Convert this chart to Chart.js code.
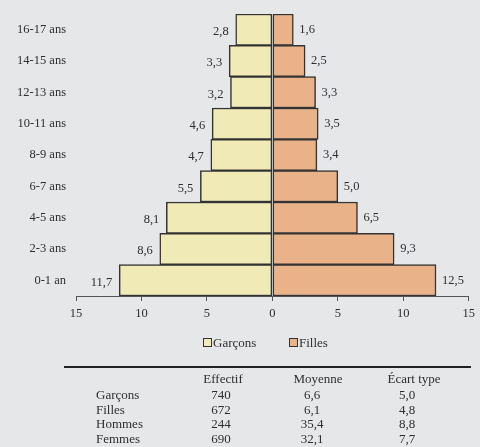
<!DOCTYPE html>
<html>
<head>
<meta charset="utf-8">
<script src="https://cdn.jsdelivr.net/npm/chart.js@4.4.1/dist/chart.umd.min.js"></script>
<style>
  body { margin: 0; background: #e6e7e9; }
  #wrap { position: relative; width: 480px; height: 447px; font-family: 'Liberation Serif', serif; color: #2e2e2e; }
  #wrap canvas { position: absolute; left: 0; top: 0; }
  .t { position: absolute; white-space: nowrap; line-height: 1; font-size: 13px; }
  .box { position: absolute; width: 7px; height: 7px; border: 1px solid #333; }
  .rule { position: absolute; left: 64px; top: 366px; width: 407px; height: 1.5px; background: #222; }
</style>
</head>
<body>
<div id="wrap">
  <canvas id="chart" width="480" height="447"></canvas>
</div>
<script>
// age groups, top to bottom
const ageGroups = ['16-17 ans', '14-15 ans', '12-13 ans', '10-11 ans', '8-9 ans', '6-7 ans', '4-5 ans', '2-3 ans', '0-1 an'];
const garcons = [2.8, 3.3, 3.2, 4.6, 4.7, 5.5, 8.1, 8.6, 11.7];
const filles = [1.6, 2.5, 3.3, 3.5, 3.4, 5.0, 6.5, 9.3, 12.5];

// summary table
const tableRows = ['Garçons', 'Filles', 'Hommes', 'Femmes'];
const effectif = [740, 672, 244, 690];
const moyenne = [6.6, 6.1, 35.4, 32.1];
const ecartType = [5.0, 4.8, 8.8, 7.7];

const colGarcons = '#f0eab6';
const colFilles = '#e9b288';
const fmt = v => v.toFixed(1).replace('.', ',');

const valueLabels = {
  id: 'valueLabels',
  afterDatasetsDraw(chart) {
    const ctx = chart.ctx;
    ctx.save();
    ctx.font = '12.5px "Liberation Serif", serif';
    ctx.fillStyle = '#2e2e2e';
    ctx.textBaseline = 'middle';
    chart.data.datasets.forEach((ds, i) => {
      chart.getDatasetMeta(i).data.forEach((bar, j) => {
        const v = ds.data[j];
        if (v < 0) {
          ctx.textAlign = 'right';
          ctx.fillText(fmt(-v), bar.x - 7, bar.y + 2);
        } else {
          ctx.textAlign = 'left';
          ctx.fillText(fmt(v), bar.x + 6, bar.y);
        }
      });
    });
    ctx.restore();
  }
};

new Chart(document.getElementById('chart'), {
  type: 'bar',
  data: {
    labels: ageGroups,
    datasets: [
      { label: 'Garçons', data: garcons.map(v => -v), backgroundColor: colGarcons, borderColor: '#333', borderWidth: 1.5, borderSkipped: false },
      { label: 'Filles', data: filles, backgroundColor: colFilles, borderColor: '#333', borderWidth: 1.5, borderSkipped: false }
    ]
  },
  options: {
    indexAxis: 'y',
    responsive: false,
    animation: false,
    layout: { padding: { top: 14, right: 8, bottom: 121, left: 0 } },
    datasets: { bar: { barPercentage: 1, categoryPercentage: 1 } },
    plugins: { legend: { display: false }, tooltip: { enabled: false } },
    scales: {
      x: {
        stacked: true,
        min: -15, max: 15,
        grid: { drawOnChartArea: false, color: '#555', tickLength: 5 },
        border: { color: '#555', width: 1 },
        ticks: {
          stepSize: 5,
          padding: 5,
          color: '#2e2e2e',
          font: { family: 'Liberation Serif', size: 12.5 },
          callback: v => Math.abs(v)
        }
      },
      y: {
        stacked: true,
        grid: { display: false, drawTicks: true, tickLength: 7 },
        border: { display: false },
        ticks: { padding: 3, color: '#2e2e2e', font: { family: 'Liberation Serif', size: 12.5 } },
        afterFit: s => { s.width = 76; }
      }
    }
  },
  plugins: [valueLabels]
});

// legend and table
const wrap = document.getElementById('wrap');
function put(text, x, y, align) {
  const d = document.createElement('div');
  d.className = 't';
  d.textContent = text;
  d.style.left = x + 'px';
  d.style.top = y + 'px';
  const tx = align === 'center' ? '-50%' : align === 'right' ? '-100%' : '0';
  d.style.transform = 'translate(' + tx + ',-50%)';
  wrap.appendChild(d);
}
function box(x, y, color) {
  const b = document.createElement('div');
  b.className = 'box';
  b.style.left = x + 'px';
  b.style.top = y + 'px';
  b.style.background = color;
  wrap.appendChild(b);
}
box(203, 338, colGarcons);
put('Garçons', 213, 342, 'left');
box(289, 338, colFilles);
put('Filles', 299, 342, 'left');

const rule = document.createElement('div');
rule.className = 'rule';
wrap.appendChild(rule);

put('Effectif', 223, 378, 'center');
put('Moyenne', 318, 378, 'center');
put('Écart type', 414, 378, 'center');
tableRows.forEach((r, i) => {
  const y = 394 + i * 14.6;
  put(r, 96, y, 'left');
  put(String(effectif[i]), 221, y, 'center');
  put(fmt(moyenne[i]), 312, y, 'center');
  put(fmt(ecartType[i]), 407, y, 'center');
});
</script>
</body>
</html>
